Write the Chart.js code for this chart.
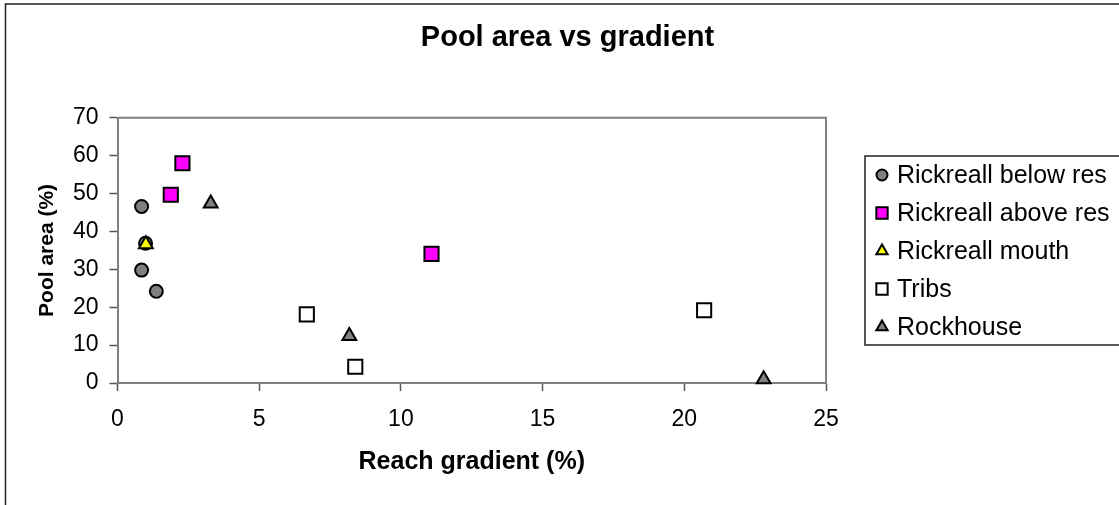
<!DOCTYPE html>
<html>
<head>
<meta charset="utf-8">
<title>Pool area vs gradient</title>
<script src="https://cdn.jsdelivr.net/npm/chart.js@4.4.1/dist/chart.umd.min.js"></script>
<style>
  html, body { margin: 0; padding: 0; background: #fff; }
  canvas { display: block; }
</style>
</head>
<body>
<canvas id="poolChart" width="1119" height="505"></canvas>
<script>
const seriesNames = ['Rickreall below res', 'Rickreall above res', 'Rickreall mouth', 'Tribs', 'Rockhouse'];

// reach gradient (%) / pool area (%) per series
const belowResX = [0.85, 0.99, 0.85, 1.37];
const belowResY = [46.6, 36.9, 29.8, 24.2];
const aboveResX = [2.29, 1.88, 11.08];
const aboveResY = [58.0, 49.7, 34.1];
const mouthX = [1.0];
const mouthY = [36.6];
const tribsX = [6.68, 8.39, 20.7];
const tribsY = [18.1, 4.3, 19.2];
const rockhouseX = [3.29, 8.18, 22.8];
const rockhouseY = [47.4, 12.4, 1.0];

const xTicks = [0, 5, 10, 15, 20, 25];
const yTicks = [0, 10, 20, 30, 40, 50, 60, 70];

const FONT = "'Liberation Sans', Arial, sans-serif";

function toPoints(xs, ys) {
    return xs.map((x, i) => ({ x: x, y: ys[i] }));
}

function makeSeries(name, xs, ys, style, fill, radius, order) {
    return {
        label: name,
        data: toPoints(xs, ys),
        pointStyle: style,
        pointRadius: radius,
        pointHoverRadius: radius,
        backgroundColor: fill,
        borderColor: '#000000',
        pointBorderWidth: 2,
        showLine: false,
        clip: false,
        order: order
    };
}

const datasets = [
    makeSeries(seriesNames[0], belowResX, belowResY, 'circle', '#808080', 6.5, 5),
    makeSeries(seriesNames[1], aboveResX, aboveResY, 'rect', '#FF00FF', 10, 4),
    makeSeries(seriesNames[2], mouthX, mouthY, 'triangle', '#FFFF00', 8, 1),
    makeSeries(seriesNames[3], tribsX, tribsY, 'rect', '#FFFFFF', 10, 3),
    makeSeries(seriesNames[4], rockhouseX, rockhouseY, 'triangle', '#808080', 8, 2)
];

// legend marker sizes are a bit smaller than the plot markers
const legendRadius = { circle: 5.5, rect: 8, triangle: 6.5 };

const frameAndLegend = {
    id: 'frameAndLegend',
    afterDraw(chart) {
        const ctx = chart.ctx;
        const area = chart.chartArea;
        ctx.save();

        // outer chart border (runs off the right and bottom edge)
        ctx.strokeStyle = '#222222';
        ctx.lineWidth = 1.5;
        ctx.strokeRect(5.5, 4, 1130, 520);

        // top and right edge of the plot area
        ctx.strokeStyle = '#808080';
        ctx.lineWidth = 2;
        ctx.beginPath();
        ctx.moveTo(area.left, area.top);
        ctx.lineTo(area.right, area.top);
        ctx.lineTo(area.right, area.bottom);
        ctx.stroke();

        // legend box
        const boxLeft = 865, boxTop = 156, boxBottom = 345;
        ctx.strokeStyle = '#222222';
        ctx.lineWidth = 1.5;
        ctx.strokeRect(boxLeft, boxTop, 300, boxBottom - boxTop);

        ctx.font = '25px ' + FONT;
        ctx.textBaseline = 'middle';
        ctx.textAlign = 'left';
        chart.data.datasets.forEach((ds, i) => {
            const y = boxTop + 19 + i * 38;
            ctx.fillStyle = ds.backgroundColor;
            ctx.strokeStyle = '#000000';
            ctx.lineWidth = 2;
            Chart.helpers.drawPoint(ctx, {
                pointStyle: ds.pointStyle,
                radius: legendRadius[ds.pointStyle],
                borderWidth: 2,
                rotation: 0
            }, 882, y);
            ctx.fillStyle = '#000000';
            ctx.fillText(ds.label, 897, y + 1);
        });
        ctx.restore();
    }
};

new Chart(document.getElementById('poolChart'), {
    type: 'scatter',
    data: { datasets: datasets },
    options: {
        responsive: false,
        animation: false,
        layout: { padding: { left: 16, right: 0, top: 0, bottom: 0 } },
        plugins: {
            legend: { display: false },
            tooltip: { enabled: false },
            title: {
                display: true,
                text: 'Pool area vs gradient',
                color: '#000000',
                font: { family: FONT, size: 29, weight: 'bold' },
                padding: { top: 21, bottom: 62 }
            }
        },
        scales: {
            x: {
                type: 'linear',
                min: 0,
                max: 25,
                afterBuildTicks: (scale) => { scale.ticks = xTicks.map(v => ({ value: v })); },
                afterFit: (scale) => { scale.height = 122; },
                ticks: {
                    color: '#000000',
                    font: { family: FONT, size: 23 },
                    padding: 15
                },
                grid: { drawOnChartArea: false, tickLength: 8, tickColor: '#555555', tickWidth: 1.5 },
                border: { color: '#808080', width: 2 },
                title: {
                    display: true,
                    text: 'Reach gradient (%)',
                    color: '#000000',
                    font: { family: FONT, size: 25, weight: 'bold' },
                    padding: { top: 0, bottom: 28 }
                }
            },
            y: {
                type: 'linear',
                min: 0,
                max: 70,
                afterBuildTicks: (scale) => { scale.ticks = yTicks.map(v => ({ value: v })); },
                afterFit: (scale) => { scale.width = 101.5; },
                ticks: {
                    color: '#000000',
                    font: { family: FONT, size: 23 },
                    padding: 11
                },
                grid: { drawOnChartArea: false, tickLength: 8, tickColor: '#555555', tickWidth: 1.5 },
                border: { color: '#808080', width: 2 },
                title: {
                    display: true,
                    text: 'Pool area (%)',
                    color: '#000000',
                    font: { family: FONT, size: 21, weight: 'bold' },
                    padding: { top: 19, bottom: 0 }
                }
            },
            // empty axis that only keeps room for the legend on the right
            legendSpace: {
                type: 'linear',
                position: 'right',
                display: true,
                afterFit: (scale) => { scale.width = 293; },
                ticks: { display: false },
                grid: { display: false },
                border: { display: false }
            }
        }
    },
    plugins: [frameAndLegend]
});
</script>
</body>
</html>
